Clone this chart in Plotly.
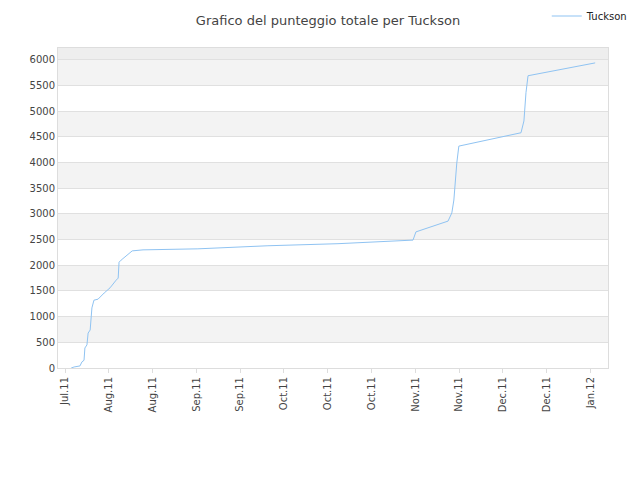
import plotly.graph_objects as go
import pandas as pd

base = pd.Timestamp("2011-07-18")
day_offsets = [2.1,3.1,5.1,5.8,6.5,6.8,7.5,7.9,8.6,9.2,9.9,11.3,13.4,15.4,17.5,18.2,18.5,19.2,23.0,26.7,45.5,69.5,93.5,119.2,120.2,131.2,132.5,133.2,134.2,134.9,156.2,157.2,157.9,158.6,181.6]
scores = [0,20,40,120,150,390,450,680,740,1170,1320,1340,1460,1560,1710,1750,2060,2100,2280,2300,2320,2380,2420,2490,2650,2860,3020,3270,3990,4320,4580,4810,5360,5690,5940]
tick_dates = ["2011-07-18","2011-08-02","2011-08-17","2011-09-01","2011-09-16","2011-10-01","2011-10-16","2011-10-31","2011-11-15","2011-11-30","2011-12-15","2011-12-30","2012-01-14"]
tick_labels = ["Jul.11","Aug.11","Aug.11","Sep.11","Sep.11","Oct.11","Oct.11","Oct.11","Nov.11","Nov.11","Dec.11","Dec.11","Jan.12"]

xs = [base + pd.Timedelta(days=d) for d in day_offsets]
ymax = 6230
shapes = []
for lo in range(500, 6000, 1000):
    shapes.append(dict(type="rect", xref="paper", yref="y", x0=0, x1=1, y0=lo, y1=lo+500,
                       fillcolor="#f3f3f3", line_width=0, layer="below"))
shapes.append(dict(type="rect", xref="paper", yref="y", x0=0, x1=1, y0=6000, y1=ymax,
                   fillcolor="#eeeeee", line_width=0, layer="below"))

fig = go.Figure(go.Scatter(x=xs, y=scores, mode="lines", name="Tuckson",
                           line=dict(color="#8fc3f2", width=1)))
fig.update_layout(
    width=640, height=480, paper_bgcolor="white", plot_bgcolor="white",
    margin=dict(l=50, r=40, t=40, b=120, autoexpand=False),
    font=dict(family="DejaVu Sans", size=10, color="#444"),
    title=dict(text="Grafico del punteggio totale per Tuckson", x=0.5, y=0.975, xanchor="center",
               yanchor="middle", font=dict(size=13, color="#444")),
    showlegend=True,
    legend=dict(x=1.045, y=1.1, xanchor="right", yanchor="middle", font=dict(size=10, color="#222"),
                bgcolor="rgba(0,0,0,0)", itemwidth=30),
    shapes=shapes,
    xaxis=dict(range=[pd.Timestamp("2011-07-15 14:00"), pd.Timestamp("2012-01-20")],
               tickvals=tick_dates, ticktext=tick_labels, tickangle=-90, automargin=False,
               showgrid=False, showline=True, linecolor="#ddd", ticks="outside", ticklen=4,
               tickcolor="#ddd", zeroline=False, mirror=True),
    yaxis=dict(range=[0, ymax], tickvals=list(range(0, 6001, 500)), automargin=False,
               showgrid=True, gridcolor="#e0e0e0", showline=True, linecolor="#ddd",
               zeroline=False, ticks="", mirror=True),
)
fig.write_html("out.html")
